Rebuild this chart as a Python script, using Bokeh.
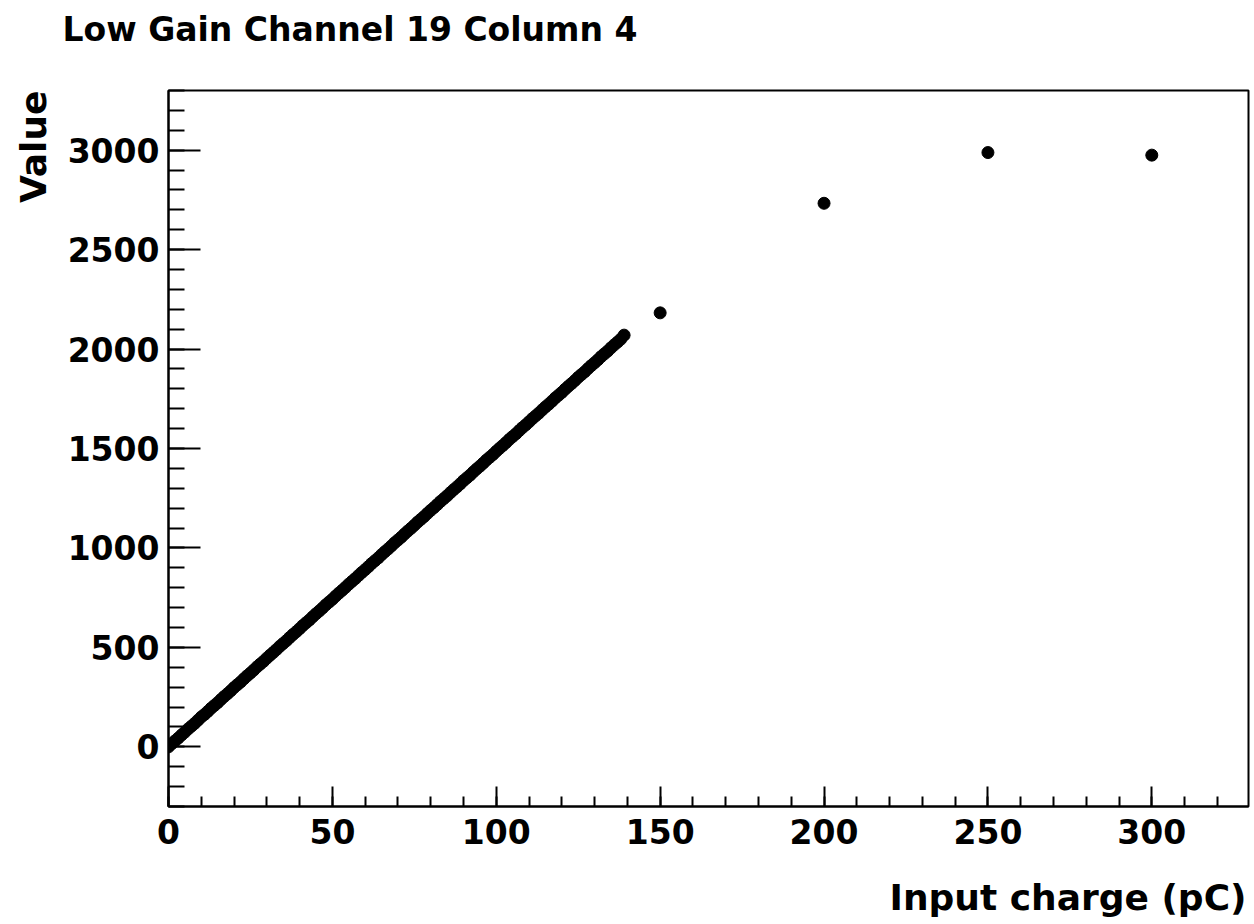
from bokeh.plotting import figure
from bokeh.layouts import column
from bokeh.models import SingleIntervalTicker, Range1d, Title, ColumnDataSource
from bokeh.embed import file_html
from bokeh.resources import INLINE

# Dense scan (input charge in pC) and measured value
scan_charge = list(range(0, 140))
scan_value = [
    0, 16, 30, 44, 60, 74, 90, 104, 118, 134,
    150, 163, 178, 194, 208, 222, 238, 253, 267, 282,
    298, 312, 326, 342, 357, 371, 386, 402, 416, 430,
    446, 461, 475, 490, 506, 520, 534, 550, 565, 579,
    594, 610, 624, 638, 654, 669, 683, 698, 714, 728,
    742, 758, 773, 787, 802, 818, 832, 846, 862, 877,
    891, 906, 922, 936, 950, 966, 981, 995, 1010, 1026,
    1040, 1054, 1070, 1085, 1099, 1114, 1130, 1144, 1158, 1174,
    1189, 1203, 1218, 1234, 1248, 1262, 1278, 1293, 1307, 1322,
    1338, 1352, 1366, 1382, 1397, 1411, 1426, 1442, 1456, 1470,
    1486, 1501, 1515, 1530, 1546, 1560, 1574, 1590, 1605, 1619,
    1634, 1650, 1664, 1678, 1694, 1709, 1723, 1738, 1754, 1768,
    1782, 1798, 1813, 1827, 1842, 1858, 1872, 1886, 1902, 1917,
    1931, 1946, 1962, 1976, 1990, 2006, 2021, 2035, 2050, 2070,
]
# Sparse points at high charge
high_charge = [150, 200, 250, 300]
high_value = [2182, 2733, 2988, 2975]

# Axis settings (values)
x_start, x_end = 0, 329.5
y_start, y_end = -300, 3300
x_major, y_major = 50, 500

title_text = "Low Gain  Channel 19 Column 4"
x_title = "Input charge (pC)"
y_title = "Value"

FONT = "DejaVu Sans"
W = 1254
TOP_H, MAIN_H = 88, 772
BOT_H = 924 - TOP_H - MAIN_H


def text_strip(height):
    # a bare strip (no axes, no marks) that only carries a Title
    f = figure(width=W, height=height, output_backend="svg", toolbar_location=None,
               x_range=Range1d(0, 1), y_range=Range1d(0, 1),
               x_axis_location=None, y_axis_location=None,
               min_border_left=168, min_border_right=6, min_border_top=0,
               min_border_bottom=0, outline_line_color=None,
               background_fill_color="white", border_fill_color="white")
    f.grid.visible = False
    return f


# --- title strip
top = text_strip(TOP_H)
top.add_layout(Title(text=title_text, align="left", text_font=FONT, text_font_style="bold",
                     text_font_size="33px", text_color="black", offset=-106,
                     standoff=15), "above")

# --- main plot
p = figure(width=W, height=MAIN_H, output_backend="svg", toolbar_location=None,
           x_range=Range1d(x_start, x_end), y_range=Range1d(y_start, y_end),
           min_border_left=168, min_border_right=6, min_border_top=2,
           min_border_bottom=MAIN_H - 718, background_fill_color="white",
           border_fill_color="white")

p.xgrid.visible = False
p.ygrid.visible = False
p.outline_line_color = "black"
p.outline_line_width = 2
p.outline_line_alpha = 1.0

xa = p.xaxis[0]
ya = p.yaxis[0]
xa.ticker = SingleIntervalTicker(interval=x_major, num_minor_ticks=5)
ya.ticker = SingleIntervalTicker(interval=y_major, num_minor_ticks=5)
for ax, maj, mnr in ((xa, 20, 10), (ya, 32, 16)):
    ax.major_tick_in = maj
    ax.major_tick_out = 0
    ax.minor_tick_in = mnr
    ax.minor_tick_out = 0
    ax.axis_line_width = 2
    ax.axis_line_color = "black"
    ax.major_tick_line_width = 2
    ax.minor_tick_line_width = 2
    ax.major_tick_line_color = "black"
    ax.minor_tick_line_color = "black"
    ax.major_label_text_font = FONT
    ax.major_label_text_font_style = "bold"
    ax.major_label_text_font_size = "33px"
    ax.major_label_text_color = "black"
xa.major_label_standoff = 12
ya.major_label_standoff = 9

src1 = ColumnDataSource(dict(x=scan_charge, y=scan_value))
src2 = ColumnDataSource(dict(x=high_charge, y=high_value))
p.scatter("x", "y", source=src1, size=12, marker="circle", color="black")
p.scatter("x", "y", source=src2, size=12, marker="circle", color="black")

p.add_layout(Title(text=y_title, align="right", text_font=FONT, text_font_style="bold",
                   text_font_size="36px", text_color="black", standoff=21), "left")

# --- x-axis title strip
bottom = text_strip(BOT_H)
bottom.add_layout(Title(text=x_title, align="right", text_font=FONT, text_font_style="bold",
                        text_font_size="36px", text_color="black", offset=2,
                        standoff=14), "below")

layout = column(top, p, bottom, spacing=0)
open("out.html", "w").write(file_html(layout, INLINE))
